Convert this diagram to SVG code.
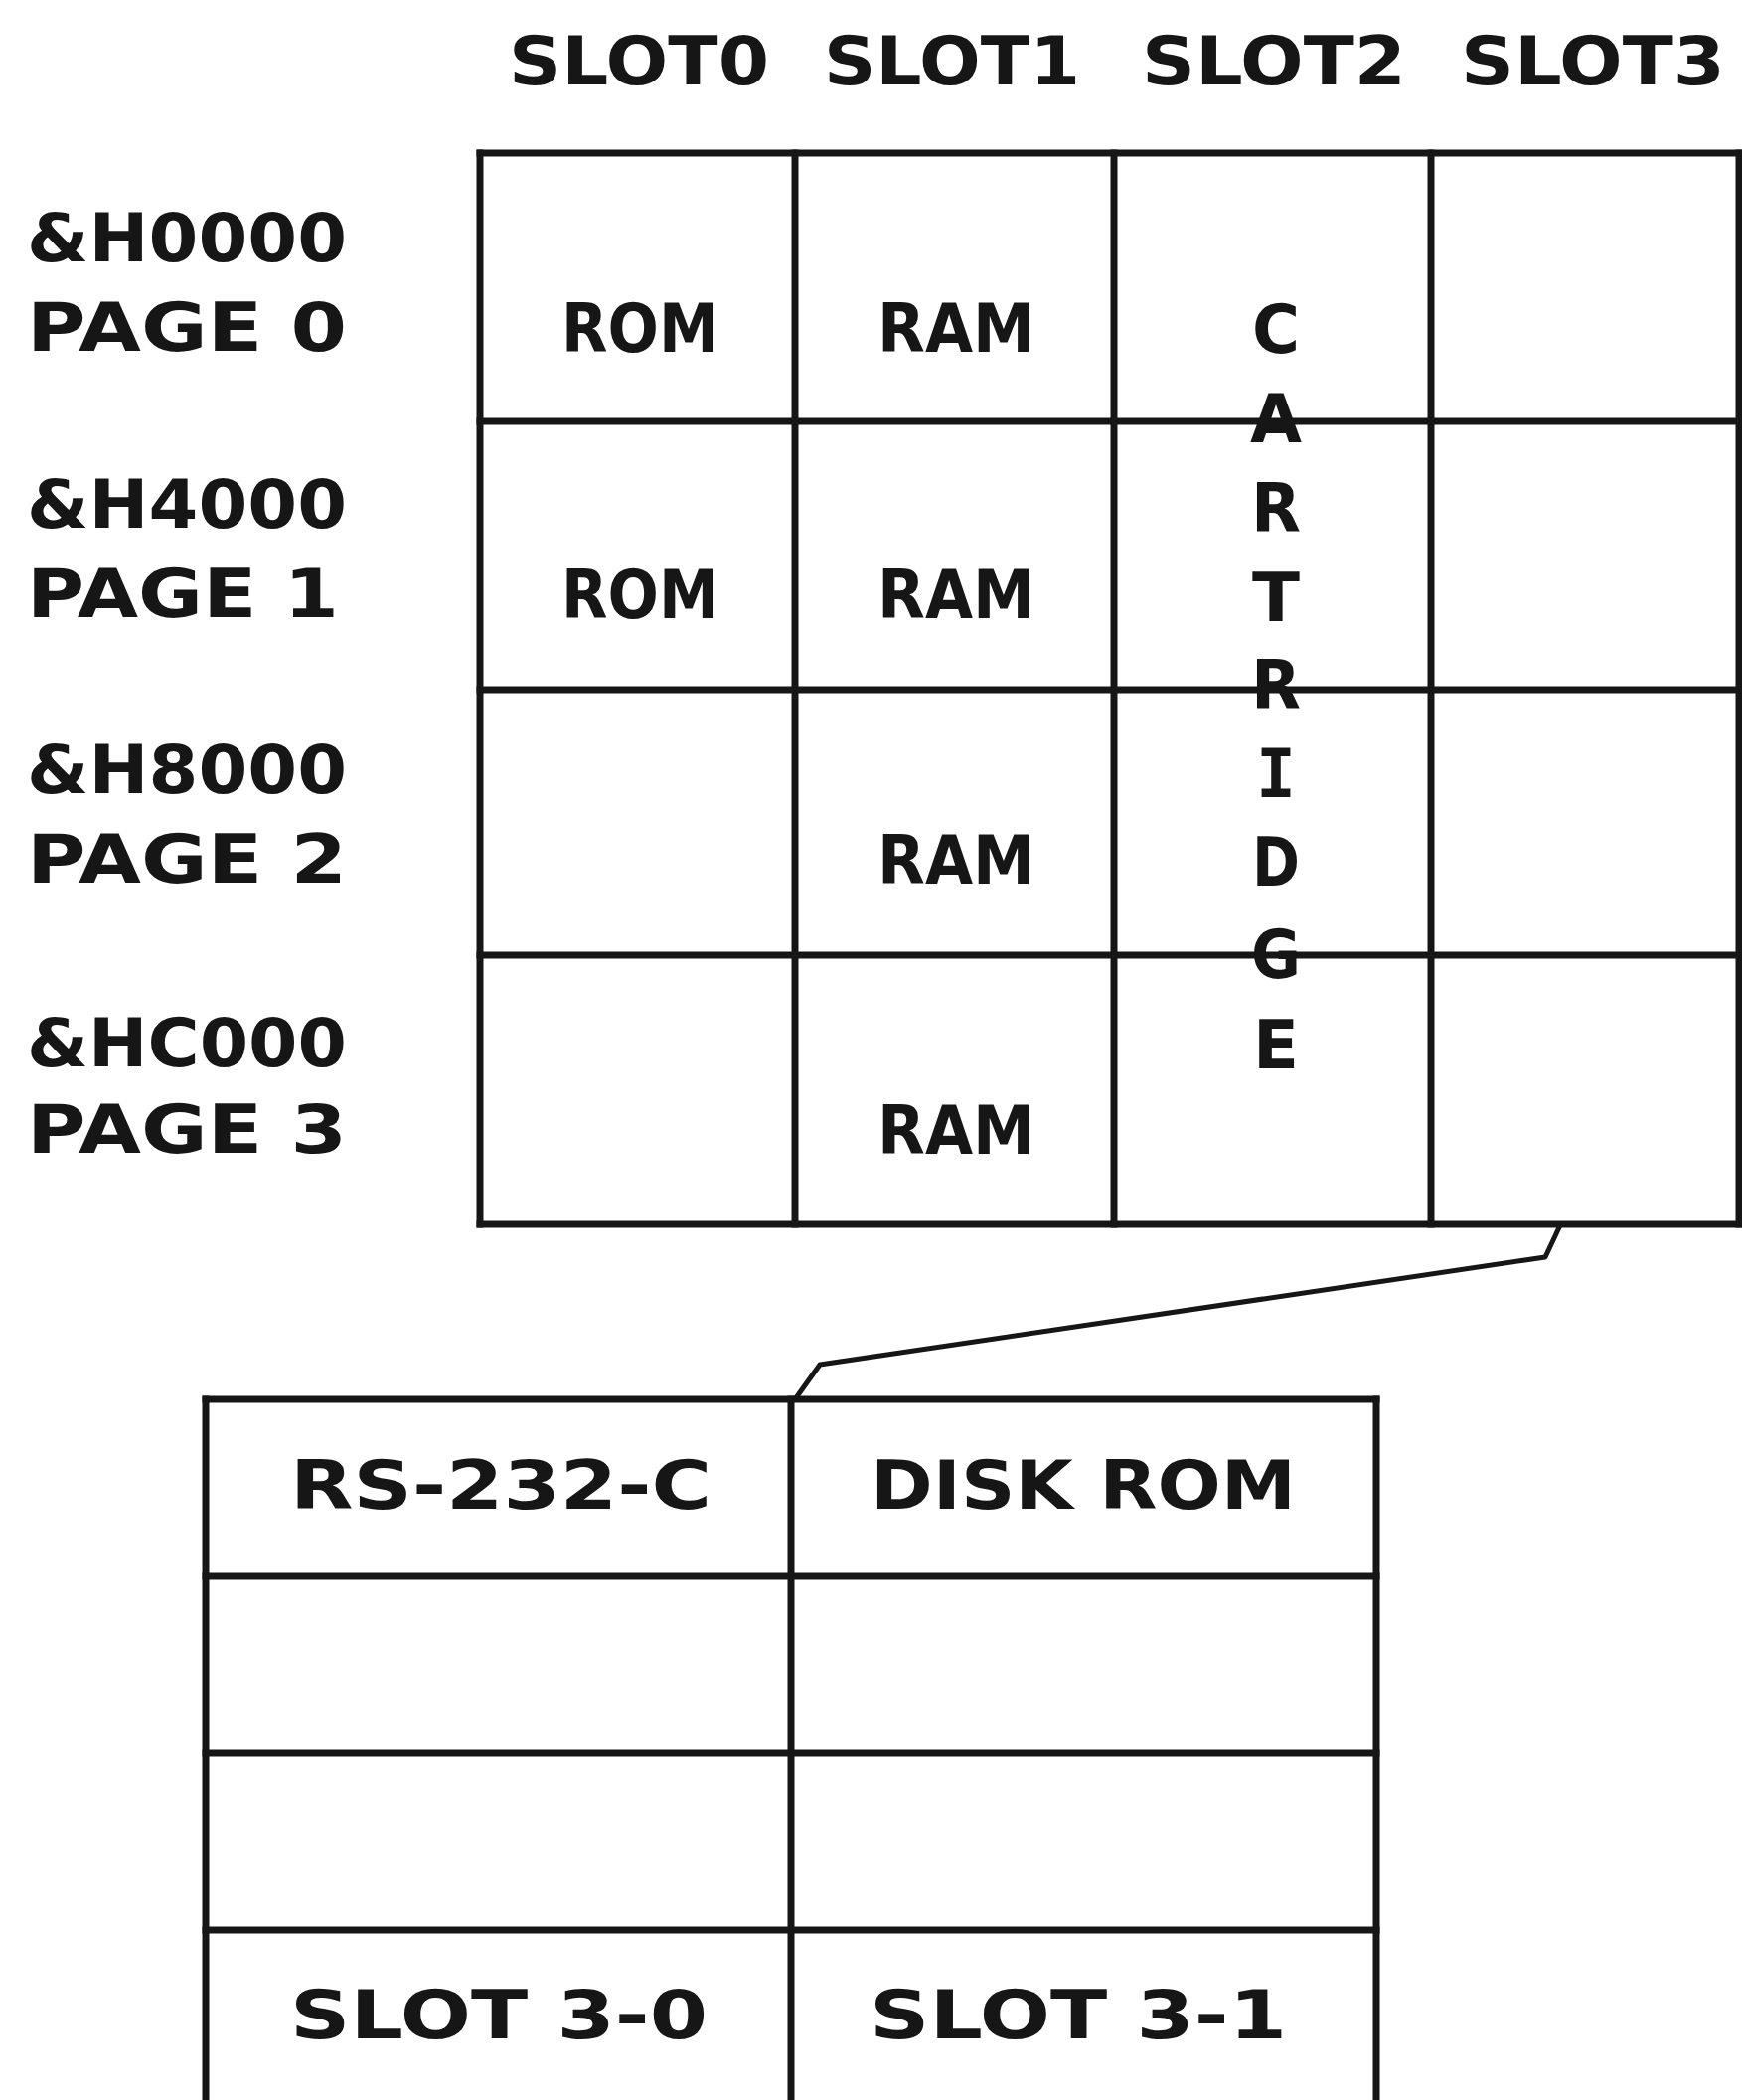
<svg xmlns="http://www.w3.org/2000/svg" width="1753" height="2113" viewBox="0 0 1753 2113">
<style>
.ln{stroke:#161616;stroke-width:7;fill:none;stroke-linecap:square}
.cn{stroke:#161616;stroke-width:5;fill:none;stroke-linejoin:round}
.t{font-family:"DejaVu Sans","Liberation Sans",sans-serif;font-weight:bold;font-size:68px;fill:#161616}
.mono{font-family:"DejaVu Sans Mono","Liberation Mono",monospace}
.m{text-anchor:middle}
</style>
<rect x="0" y="0" width="1753" height="2113" fill="#ffffff"/>
<g id="slot-headers">
<text class="t m" x="643" y="85" textLength="262" lengthAdjust="spacingAndGlyphs">SLOT0</text>
<text class="t m" x="958" y="85" textLength="258" lengthAdjust="spacingAndGlyphs">SLOT1</text>
<text class="t m" x="1282" y="85" textLength="266" lengthAdjust="spacingAndGlyphs">SLOT2</text>
<text class="t m" x="1603" y="85" textLength="266" lengthAdjust="spacingAndGlyphs">SLOT3</text>
</g>
<g id="page-labels">
<text class="t" x="27" y="263" textLength="322" lengthAdjust="spacingAndGlyphs">&amp;H0000</text>
<text class="t" x="27" y="353" textLength="322" lengthAdjust="spacingAndGlyphs">PAGE 0</text>
<text class="t" x="27" y="531" textLength="322" lengthAdjust="spacingAndGlyphs">&amp;H4000</text>
<text class="t" x="27" y="621" textLength="314" lengthAdjust="spacingAndGlyphs">PAGE 1</text>
<text class="t" x="27" y="798" textLength="322" lengthAdjust="spacingAndGlyphs">&amp;H8000</text>
<text class="t" x="27" y="888" textLength="322" lengthAdjust="spacingAndGlyphs">PAGE 2</text>
<text class="t" x="27" y="1073" textLength="322" lengthAdjust="spacingAndGlyphs">&amp;HC000</text>
<text class="t" x="27" y="1160" textLength="322" lengthAdjust="spacingAndGlyphs">PAGE 3</text>
</g>
<g id="primary-slots">
<line class="ln" x1="483" y1="154" x2="1750" y2="154"/>
<line class="ln" x1="483" y1="424" x2="1750" y2="424"/>
<line class="ln" x1="483" y1="694" x2="1750" y2="694"/>
<line class="ln" x1="483" y1="961" x2="1750" y2="961"/>
<line class="ln" x1="483" y1="1232" x2="1750" y2="1232"/>
<line class="ln" x1="483" y1="154" x2="483" y2="1232"/>
<line class="ln" x1="800" y1="154" x2="800" y2="1232"/>
<line class="ln" x1="1121" y1="154" x2="1121" y2="1232"/>
<line class="ln" x1="1440" y1="154" x2="1440" y2="1232"/>
<line class="ln" x1="1750" y1="154" x2="1750" y2="1232"/>
</g>
<g id="slot0">
<text class="t m" x="644" y="354" textLength="158" lengthAdjust="spacingAndGlyphs">ROM</text>
<text class="t m" x="644" y="622" textLength="158" lengthAdjust="spacingAndGlyphs">ROM</text>
</g>
<g id="slot1">
<text class="t m" x="962" y="354" textLength="158" lengthAdjust="spacingAndGlyphs">RAM</text>
<text class="t m" x="962" y="622" textLength="158" lengthAdjust="spacingAndGlyphs">RAM</text>
<text class="t m" x="962" y="889" textLength="158" lengthAdjust="spacingAndGlyphs">RAM</text>
<text class="t m" x="962" y="1161" textLength="158" lengthAdjust="spacingAndGlyphs">RAM</text>
</g>
<g id="slot2-cartridge">
<text class="t m" x="1284" y="355" textLength="48" lengthAdjust="spacingAndGlyphs">C</text>
<text class="t m" x="1284" y="445" textLength="52" lengthAdjust="spacingAndGlyphs">A</text>
<text class="t m" x="1284" y="535" textLength="50" lengthAdjust="spacingAndGlyphs">R</text>
<text class="t m" x="1284" y="625" textLength="48" lengthAdjust="spacingAndGlyphs">T</text>
<text class="t m" x="1284" y="713" textLength="50" lengthAdjust="spacingAndGlyphs">R</text>
<text class="t m mono" x="1284" y="802" textLength="40" lengthAdjust="spacingAndGlyphs">I</text>
<text class="t m" x="1284" y="891" textLength="48" lengthAdjust="spacingAndGlyphs">D</text>
<text class="t m" x="1284" y="984" textLength="50" lengthAdjust="spacingAndGlyphs">G</text>
<text class="t m" x="1284" y="1075" textLength="46" lengthAdjust="spacingAndGlyphs">E</text>
</g>
<g id="connectors">
<path class="cn" d="M1570,1233 L1555,1265 L825,1373 L800,1408"/>
</g>
<g id="expanded-slot3">
<line class="ln" x1="207" y1="1408" x2="1385" y2="1408"/>
<line class="ln" x1="207" y1="1586" x2="1385" y2="1586"/>
<line class="ln" x1="207" y1="1764" x2="1385" y2="1764"/>
<line class="ln" x1="207" y1="1942" x2="1385" y2="1942"/>
<line class="ln" x1="207" y1="1408" x2="207" y2="2113"/>
<line class="ln" x1="796" y1="1408" x2="796" y2="2113"/>
<line class="ln" x1="1385" y1="1408" x2="1385" y2="2113"/>
<text class="t m" x="504" y="1518" textLength="424" lengthAdjust="spacingAndGlyphs">RS-232-C</text>
<text class="t m" x="1090" y="1518" textLength="428" lengthAdjust="spacingAndGlyphs">DISK ROM</text>
<text class="t m" x="502" y="2051" textLength="420" lengthAdjust="spacingAndGlyphs">SLOT 3-0</text>
<text class="t m" x="1085" y="2051" textLength="420" lengthAdjust="spacingAndGlyphs">SLOT 3-1</text>
</g>
</svg>
